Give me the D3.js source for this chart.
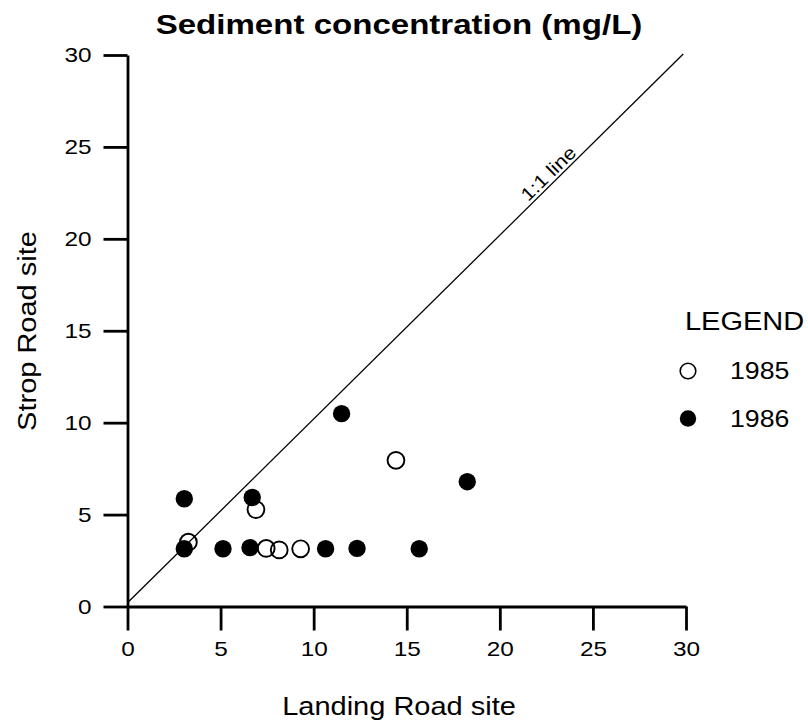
<!DOCTYPE html>
<html>
<head>
<meta charset="utf-8">
<script src="https://cdn.jsdelivr.net/npm/d3@7"></script>
<style>
  html, body { margin: 0; padding: 0; background: #fff; }
  svg { display: block; }
  text { font-family: "Liberation Sans", Arial, Helvetica, sans-serif; fill: #000; }
</style>
</head>
<body>
<svg id="chart" width="808" height="727"></svg>
<script>
// Sediment concentration (mg/L) at the two sites
const landing1985 = [3.27, 6.9, 7.45, 8.15, 9.3, 14.42];
const strop1985   = [3.5, 5.27, 3.16, 3.08, 3.14, 7.95];
const landing1986 = [3.05, 6.7, 3.05, 5.13, 6.58, 10.64, 12.33, 15.67, 18.25, 11.5];
const strop1986   = [5.86, 5.93, 3.14, 3.14, 3.2, 3.14, 3.16, 3.14, 6.79, 10.49];
const tickValues  = [0, 5, 10, 15, 20, 25, 30];
const legendYears = ["1985", "1986"];

const STRETCH = 1.16;   // the lettering is set slightly wide
const svg = d3.select("#chart");

const x = d3.scaleLinear().domain([0, 30]).range([127.5, 686]);
const y = d3.scaleLinear().domain([0, 30]).range([606.5, 55]);

// axes
const xAxis = d3.axisBottom(x).tickValues(tickValues).tickSize(24).tickSizeOuter(0).tickPadding(11);
const yAxis = d3.axisLeft(y).tickValues(tickValues).tickSize(24).tickSizeOuter(0).tickPadding(12);

const gx = svg.append("g").attr("transform", `translate(0,${y(0)})`).call(xAxis);
const gy = svg.append("g").attr("transform", `translate(${x(0)},0)`).call(yAxis);

[gx, gy].forEach(g => {
  g.select(".domain").attr("stroke", "#000").attr("stroke-width", 2.8);
  g.selectAll(".tick line").attr("stroke", "#000").attr("stroke-width", 2.8);
  g.selectAll(".tick text")
    .attr("font-size", 21)
    .attr("font-family", "Liberation Sans, Arial, sans-serif");
});
gx.selectAll(".tick text").attr("transform", `scale(${STRETCH},1)`);
gy.selectAll(".tick text")
  .attr("x", -36 / STRETCH)
  .attr("transform", `scale(${STRETCH},1)`);

// 1:1 reference line
const oneToOne = [[0, 0.2], [29.85, 30.05]];
svg.append("line")
  .attr("x1", x(oneToOne[0][0])).attr("y1", y(oneToOne[0][1]))
  .attr("x2", x(oneToOne[1][0])).attr("y2", y(oneToOne[1][1]))
  .attr("stroke", "#000").attr("stroke-width", 1.3);

const angle = Math.atan2(y(30) - y(0), x(30) - x(0)) * 180 / Math.PI;
svg.append("text")
  .attr("transform", `translate(${x(23.0)},${y(23.15)}) rotate(${angle}) scale(${STRETCH},1)`)
  .attr("text-anchor", "middle")
  .attr("dy", -4)
  .attr("font-size", 18.5)
  .text("1:1 line");

// points: 1986 filled, 1985 open
const pts1986 = landing1986.map((v, i) => [v, strop1986[i]]);
const pts1985 = landing1985.map((v, i) => [v, strop1985[i]]);

svg.append("g").selectAll("circle").data(pts1986).join("circle")
  .attr("cx", d => x(d[0])).attr("cy", d => y(d[1])).attr("r", 8.7)
  .attr("fill", "#000");

svg.append("g").selectAll("circle").data(pts1985).join("circle")
  .attr("cx", d => x(d[0])).attr("cy", d => y(d[1])).attr("r", 8.4)
  .attr("fill", "none").attr("stroke", "#000").attr("stroke-width", 1.9);

// title and axis titles
svg.append("text")
  .attr("transform", `translate(399,33.5) scale(${STRETCH},1)`)
  .attr("text-anchor", "middle")
  .attr("font-size", 28.5).attr("font-weight", "bold")
  .text("Sediment concentration (mg/L)");

svg.append("text")
  .attr("transform", `translate(399,715) scale(${STRETCH},1)`)
  .attr("text-anchor", "middle")
  .attr("font-size", 25)
  .text("Landing Road site");

svg.append("text")
  .attr("transform", `translate(36,331) rotate(-90) scale(${STRETCH},1)`)
  .attr("text-anchor", "middle")
  .attr("font-size", 25)
  .text("Strop Road site");

// legend
svg.append("text")
  .attr("transform", `translate(685,330) scale(${STRETCH},1)`)
  .attr("font-size", 25)
  .text("LEGEND");

const leg = svg.append("g").selectAll("g").data(legendYears).join("g")
  .attr("transform", (d, i) => `translate(688,${371 + i * 47.5})`);
leg.append("circle")
  .attr("r", (d, i) => i === 0 ? 7.8 : 8.2)
  .attr("fill", (d, i) => i === 0 ? "none" : "#000")
  .attr("stroke", "#000").attr("stroke-width", (d, i) => i === 0 ? 1.6 : 0);
leg.append("text")
  .attr("transform", `translate(42,8) scale(${STRETCH},1)`)
  .attr("font-size", 23)
  .text(d => d);
</script>
</body>
</html>
